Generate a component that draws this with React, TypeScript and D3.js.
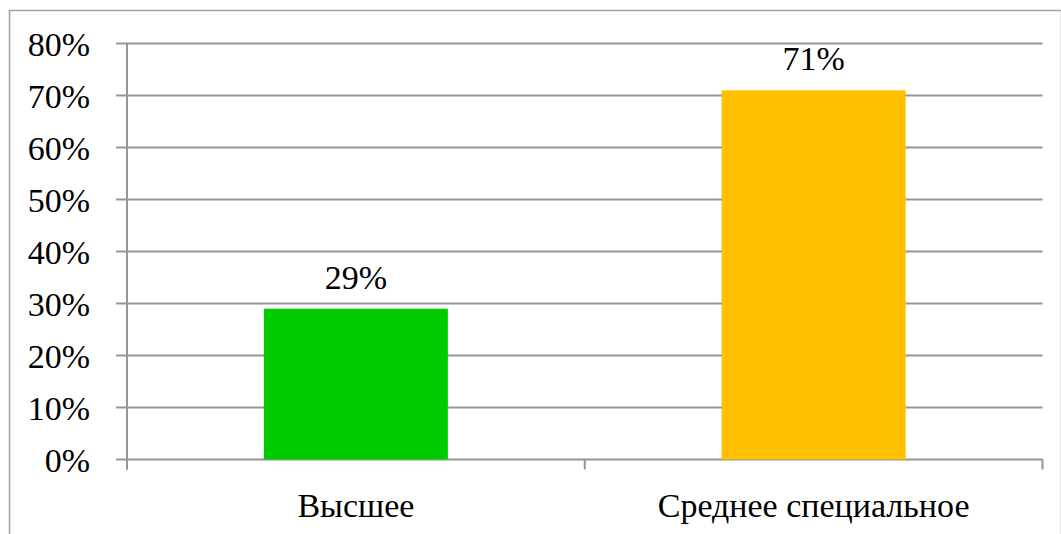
import React from "react";
import * as d3 from "d3";

const categories: string[] = ["Высшее", "Среднее специальное"];
const values: number[] = [0.29, 0.71];
const barColors: string[] = ["#00CC00", "#FFC000"];
const yTicks: number[] = [0, 0.1, 0.2, 0.3, 0.4, 0.5, 0.6, 0.7, 0.8];

const W = 1061;
const H = 534;
const plotLeft = 127;
const plotRight = 1042.5;
const plotTop = 43.5;
const plotBottom = 459.5;
const fs = 34;
const serifFont = "Liberation Serif";

export default function App() {
  const x = d3.scaleBand<string>().domain(categories).range([plotLeft, plotRight]).paddingInner(0).paddingOuter(0);
  const y = d3.scaleLinear().domain([0, 0.8]).range([plotBottom, plotTop]);
  const bw = x.bandwidth() * 0.402;
  const fmt = d3.format(".0%");
  const gridColor = "#959595";
  return (
    <div style={{ position: "absolute", left: 0, top: 0, width: W, height: H, background: "#fff" }}>
      <svg width={W} height={H}>
        <rect x={9.5} y={10.5} width={1052} height={540} fill="none" stroke="#a0a0a0" strokeWidth={1.5} />
        {yTicks.map((t) => (
          <g key={t}>
            <line x1={116} x2={plotRight} y1={y(t)} y2={y(t)} stroke={gridColor} strokeWidth={2} />
            <text x={90} y={y(t) + 12} textAnchor="end" fontFamily={serifFont} fontSize={fs}>
              {fmt(t)}
            </text>
          </g>
        ))}
        <line x1={plotLeft} x2={plotLeft} y1={plotTop} y2={plotBottom + 10} stroke={gridColor} strokeWidth={2} />
        {[plotLeft, ...categories.map((c) => (x(c) as number) + x.bandwidth())].map((px, i) => (
          <line key={i} x1={px} x2={px} y1={plotBottom} y2={plotBottom + 10} stroke={gridColor} strokeWidth={2} />
        ))}
        {categories.map((c, i) => {
          const cx = (x(c) as number) + x.bandwidth() / 2;
          return (
            <g key={c}>
              <rect x={cx - bw / 2} y={y(values[i])} width={bw} height={plotBottom - y(values[i])} fill={barColors[i]} />
              <text x={cx} y={y(values[i]) - 20} textAnchor="middle" fontFamily={serifFont} fontSize={fs}>
                {fmt(values[i])}
              </text>
              <text x={cx} y={plotBottom + 57} textAnchor="middle" fontFamily={serifFont} fontSize={fs}>
                {c}
              </text>
            </g>
          );
        })}
      </svg>
    </div>
  );
}
